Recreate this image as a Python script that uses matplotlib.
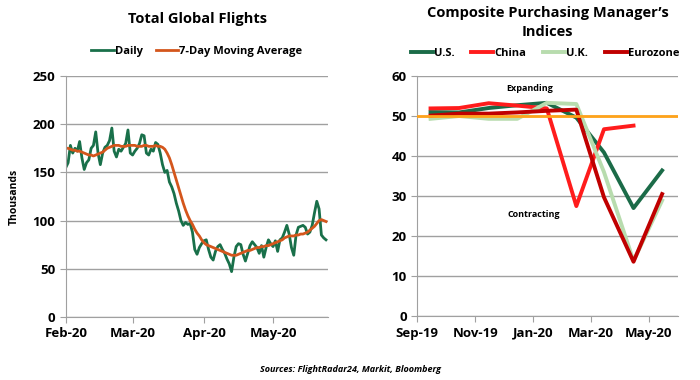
import pandas as pd
import numpy as np
import matplotlib.pyplot as plt
import matplotlib.dates as mdates

plt.rcParams['font.family'] = ['Open Sans', 'DejaVu Sans']
plt.rcParams['font.weight'] = 'bold'

# Total global flights, thousands, daily from Feb 1 2020
flights_daily = [
    155, 160, 178, 170, 175, 172, 182, 165, 153, 160, 163, 175, 178, 192, 170,
    158, 170, 176, 178, 183, 196, 172, 166, 174, 172, 176, 180, 194, 170,
    168, 172, 175, 180, 189, 188, 170, 168, 174, 172, 181, 179, 170, 158, 150,
    152, 140, 135, 128, 118, 110, 100, 95, 98, 96, 97, 88, 70, 65, 72, 76,
    79, 80, 70, 62, 59, 68, 73, 75, 70, 66, 60, 55, 47, 62, 73, 76, 75, 65,
    58, 66, 74, 78, 75, 72, 66, 74, 62, 72, 80, 76,
    73, 79, 68, 80, 82, 88, 95, 86, 72, 64, 85, 93, 94, 95, 93, 86, 88, 95,
    108, 120, 112, 85, 82, 80,
]
flights_ma = [
    175, 175, 174, 173, 173, 172, 172, 171, 170, 169, 168, 168, 167, 168, 169,
    170, 171, 173, 175, 176, 177, 178, 178, 178, 177, 177, 177, 178, 178,
    178, 178, 177, 177, 177, 178, 178, 177, 177, 177, 178, 177, 177, 176, 174,
    170, 165, 158, 150, 142, 134, 126, 118, 111, 105, 100, 96, 91, 87, 84, 80,
    77, 75, 74, 73, 72, 71, 70, 69, 68, 67, 66, 65, 64, 64, 64, 65, 66, 67,
    68, 69, 69, 70, 71, 72, 72, 73, 73, 74, 74, 75,
    76, 77, 78, 79, 80, 82, 83, 84, 84, 84, 85, 85, 86, 86, 87, 88, 90, 92,
    94, 97, 100, 101, 100, 99,
]
flight_days = pd.date_range('2020-02-01', periods=len(flights_daily), freq='D')

# Composite PMI, monthly (plotted mid-month)
pmi_months = pd.date_range('2019-09-01', periods=9, freq='MS') + pd.Timedelta(days=14)
pmi_us = [51.0, 50.9, 52.0, 52.7, 53.3, 49.6, 40.9, 27.0, 36.4]
pmi_china = [51.9, 52.0, 53.2, 52.6, 51.9, 27.5, 46.7, 47.6]
pmi_uk = [49.3, 50.0, 49.3, 49.3, 53.3, 53.0, 36.0, 13.8, 28.9]
pmi_euro = [50.1, 50.6, 50.6, 50.9, 51.3, 51.6, 29.7, 13.6, 30.5]

fig = plt.figure(figsize=(7, 3.8), dpi=100)
ax1 = fig.add_axes([0.094, 0.166, 0.375, 0.634])
ax2 = fig.add_axes([0.596, 0.168, 0.373, 0.632])


def style_axis(ax):
    ax.grid(axis='y', color='#a0a0a0', linewidth=1)
    ax.set_axisbelow(True)
    for s in ['top', 'right']:
        ax.spines[s].set_visible(False)
    for s in ['left', 'bottom']:
        ax.spines[s].set_color('#a0a0a0')
    ax.tick_params(colors='#a0a0a0', labelcolor='black', labelsize=9.5, length=4)
    ax.xaxis.set_major_formatter(mdates.DateFormatter('%b-%y'))


# left chart
ax1.plot(flight_days, flights_daily, color='#19704a', lw=2, label='Daily')
ax1.plot(flight_days, flights_ma, color='#d4561c', lw=2, label='7-Day Moving Average')
ax1.set_ylim(0, 250)
ax1.set_yticks(range(0, 251, 50))
ax1.set_xlim(pd.Timestamp('2020-02-01'), pd.Timestamp('2020-05-25'))
ax1.set_xticks(pd.to_datetime(['2020-02-01', '2020-03-01', '2020-04-01', '2020-05-01']))
style_axis(ax1)
ax1.set_ylabel('Thousands', fontsize=7.5, fontweight='bold', labelpad=9)
ax1.set_title('Total Global Flights', fontsize=10.5, fontweight='bold', pad=38)
ax1.legend(loc='lower center', bbox_to_anchor=(0.5, 1.0), ncol=2, frameon=False,
           fontsize=8, handlelength=2, handletextpad=0.1, columnspacing=1.2,
           borderaxespad=1.3)

# right chart
ax2.plot(pmi_months, pmi_us, color='#1b6b48', lw=2.8, label='U.S.')
ax2.plot(pmi_months[:len(pmi_china)], pmi_china, color='#ff1c1c', lw=2.8, label='China')
ax2.plot(pmi_months, pmi_uk, color='#b8dcae', lw=2.8, label='U.K.')
ax2.plot(pmi_months, pmi_euro, color='#c00000', lw=2.8, label='Eurozone')
ax2.axhline(50, color='#ffa31a', lw=2, zorder=3)
ax2.set_ylim(0, 60)
ax2.set_yticks(range(0, 61, 10))
ax2.set_xlim(pd.Timestamp('2019-09-01'), pd.Timestamp('2020-06-01'))
ax2.set_xticks(pd.to_datetime(['2019-09-01', '2019-11-01', '2020-01-01',
                               '2020-03-01', '2020-05-01']))
style_axis(ax2)
ax2.text(pd.Timestamp('2019-12-28'), 57, 'Expanding', fontsize=6.5,
         fontweight='bold', ha='center', va='center')
ax2.text(pd.Timestamp('2020-01-01'), 25.5, 'Contracting', fontsize=6.5,
         fontweight='bold', ha='center', va='center')
ax2.set_title("Composite Purchasing Manager\u2019s\nIndices", fontsize=10.5,
              fontweight='bold', pad=29, linespacing=1.45)
ax2.legend(loc='lower center', bbox_to_anchor=(0.49, 1.0), ncol=4, frameon=False,
           fontsize=8, handlelength=2, handletextpad=0.1, columnspacing=1.5,
           borderaxespad=1.1)

fig.text(0.5, 0.02, 'Sources: FlightRadar24, Markit, Bloomberg', ha='center',
         fontsize=6.5, fontweight='bold', style='italic')

fig.savefig('out.png', dpi=100)
